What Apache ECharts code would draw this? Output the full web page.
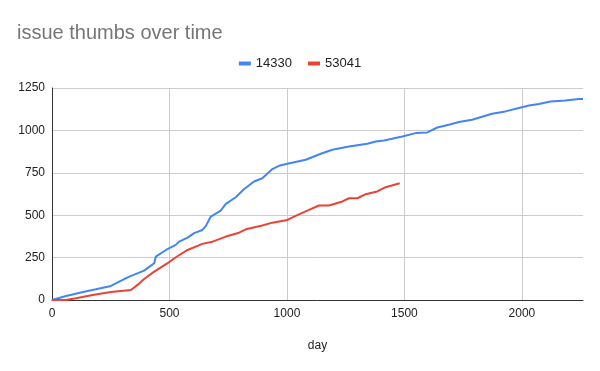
<!DOCTYPE html>
<html>
<head>
<meta charset="utf-8">
<script src="https://cdn.jsdelivr.net/npm/echarts@6/dist/echarts.min.js"></script>
<style>html,body{margin:0;padding:0;background:#fff}#c{width:600px;height:371px}</style>
</head>
<body>
<div id="c"></div>
<script>
const seriesNames = ['14330', '53041'];
const blueDays   = [0,60,137,187,251,286,329,392,435,442,485,527,541,577,605,640,655,676,718,740,782,818,860,895,938,966,1002,1080,1144,1193,1264,1342,1378,1413,1491,1548,1597,1640,1689,1732,1788,1873,1930,1987,2030,2072,2122,2185,2242,2260];
const blueThumbs = [0,24,49,63,83,108,138,173,217,256,295,325,344,368,394,413,437,492,527,567,606,654,699,718,772,791,803,827,862,886,905,921,935,941,964,984,988,1017,1033,1049,1063,1098,1112,1132,1147,1156,1171,1177,1185,1185];
const redDays    = [0,60,102,173,251,336,364,392,435,492,527,577,640,683,740,796,825,895,938,1002,1037,1094,1136,1179,1236,1264,1300,1335,1384,1420,1480];
const redThumbs  = [0,0,10,30,47,59,89,124,167,217,252,295,331,344,374,397,417,439,456,472,496,531,557,557,581,600,600,624,640,665,688];
const yTicks = [0,250,500,750,1000,1250];
const xTicks = [0,500,1000,1500,2000];

const font = "'Liberation Sans', Arial, sans-serif";
const zip = (a, b) => a.map((v, i) => [v, b[i]]);

const chart = echarts.init(document.getElementById('c'), null, {renderer: 'canvas'});
chart.setOption({
  animation: false,
  textStyle: {fontFamily: font},
  title: {
    text: 'issue thumbs over time', left: 12, top: 18,
    textStyle: {fontFamily: font, fontSize: 20, fontWeight: 'normal', color: '#757575'}
  },
  legend: {
    top: 52, left: 'center', icon: 'rect', itemWidth: 12, itemHeight: 4, itemGap: 16,
    textStyle: {fontFamily: font, fontSize: 13, color: '#222'},
    data: seriesNames
  },
  grid: {left: 52, right: 17, top: 88, bottom: 71, containLabel: false},
  xAxis: {
    type: 'value', min: xTicks[0], max: 2260, interval: 500,
    name: 'day', nameLocation: 'middle', nameGap: 40,
    nameTextStyle: {fontFamily: font, fontSize: 12, color: '#222'},
    axisLine: {show: true, lineStyle: {color: '#333', width: 1}},
    axisTick: {show: false},
    axisLabel: {fontFamily: font, fontSize: 12, color: '#222', margin: 8, showMaxLabel: false,
      formatter: v => String(v)},
    splitLine: {show: true, showMaxLine: false, showMinLine: false, lineStyle: {color: '#cccccc', width: 1}}
  },
  yAxis: {
    type: 'value', min: yTicks[0], max: yTicks[yTicks.length-1], interval: 250,
    axisLine: {show: true, lineStyle: {color: '#333', width: 1}},
    axisTick: {show: false},
    axisLabel: {fontFamily: font, fontSize: 12, color: '#222', margin: 7, formatter: v => String(v)},
    splitLine: {show: true, lineStyle: {color: '#cccccc', width: 1}}
  },
  series: [
    {name: seriesNames[0], type: 'line', data: zip(blueDays, blueThumbs), showSymbol: false, symbol: 'none',
     lineStyle: {color: '#4285F4', width: 2}, itemStyle: {color: '#4285F4'}},
    {name: seriesNames[1], type: 'line', data: zip(redDays, redThumbs), showSymbol: false, symbol: 'none',
     lineStyle: {color: '#EA4335', width: 2}, itemStyle: {color: '#EA4335'}}
  ]
});
</script>
</body>
</html>
